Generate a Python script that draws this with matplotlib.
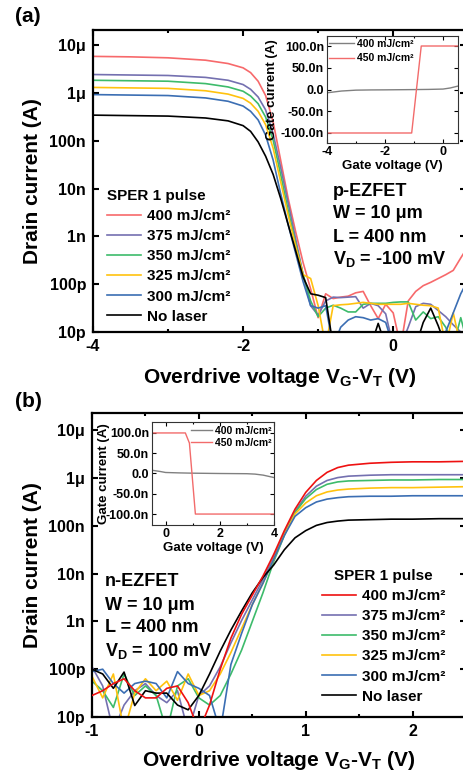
import numpy as np
import matplotlib
matplotlib.use('Agg')
import matplotlib.pyplot as plt
from matplotlib.ticker import FixedLocator, FixedFormatter, MultipleLocator, NullLocator

plt.rcParams['font.family'] = ['Liberation Sans', 'DejaVu Sans']
plt.rcParams['font.weight'] = 'bold'
plt.rcParams['mathtext.fontset'] = 'custom'
plt.rcParams['mathtext.rm'] = 'Liberation Sans:bold'
plt.rcParams['mathtext.it'] = 'Liberation Sans:bold'
plt.rcParams['mathtext.bf'] = 'Liberation Sans:bold'
plt.rcParams['axes.unicode_minus'] = False

# ---------------- data ----------------
labels = ['400 mJ/cm²', '375 mJ/cm²', '350 mJ/cm²', '325 mJ/cm²', '300 mJ/cm²', 'No laser']
colors_a = ['#f7696b', '#7470b0', '#3dbb6b', '#ffc20e', '#3b6eb3', '#000000']
colors_b = ['#ee1111', '#7470b0', '#3dbb6b', '#ffc20e', '#3b6eb3', '#000000']

# panel (a): overdrive voltage (V) and log10(drain current / A)
va = [-4.0, -3.5, -3.0, -2.5, -2.2, -2.0, -1.9, -1.8, -1.7, -1.6, -1.5, -1.4, -1.3, -1.2, -1.1,
      -1.0, -0.9, -0.8, -0.7, -0.6, -0.5, -0.4, -0.3, -0.2, -0.1, 0.0,
      0.1, 0.2, 0.3, 0.4, 0.5, 0.6, 0.7, 0.8, 0.9, 1.0]
a_400 = [-5.23, -5.24, -5.26, -5.31, -5.38, -5.47, -5.57, -5.75, -6.05, -6.6, -7.4, -8.2, -8.9, -9.55, -10.1,
         -10.7, -10.2, -10.3, -10.27, -10.25, -10.18, -10.15, -10.45, -10.72, -10.42, -10.6,
         -11.3, -10.35, -10.15, -10.03, -9.96, -9.88, -9.8, -9.71, -9.45, -9.2]
a_375 = [-5.61, -5.62, -5.63, -5.67, -5.73, -5.82, -5.92, -6.08, -6.35, -6.85, -7.55, -8.3, -9.05, -9.8, -10.45,
         -10.65, -10.35, -10.27, -10.28, -10.27, -10.26, -10.5, -10.4, -10.45, -10.62, -11.3,
         -11.3, -10.9, -10.47, -10.4, -10.42, -10.55, -10.68, -10.85, -11.0, -11.3]
a_350 = [-5.73, -5.74, -5.75, -5.80, -5.87, -5.96, -6.06, -6.22, -6.5, -6.98, -7.7, -8.45, -9.15, -9.8, -10.35,
         -10.68, -10.5, -10.44, -10.5, -10.58, -10.58, -10.42, -10.4, -10.4, -10.4, -10.38,
         -10.37, -10.37, -10.75, -10.58, -10.72, -10.68, -10.9, -11.3, -10.7, -11.3]
a_325 = [-5.88, -5.89, -5.9, -5.95, -6.02, -6.11, -6.21, -6.38, -6.66, -7.15, -7.85, -8.55, -9.2, -9.8, -9.88,
         -10.45, -11.3, -10.45, -10.43, -10.42, -10.4, -10.38, -10.4, -10.42, -10.42, -10.42,
         -10.42, -10.4, -10.42, -10.44, -10.45, -10.5, -11.3, -10.6, -11.3, -11.3]
a_300 = [-6.03, -6.04, -6.05, -6.10, -6.17, -6.27, -6.38, -6.56, -6.88, -7.4, -8.1, -8.75, -9.35, -9.95, -10.45,
         -10.5, -10.45, -11.3, -10.9, -10.75, -10.68, -10.7, -10.75, -10.72, -10.8, -11.3,
         -11.3, -11.3, -11.3, -11.3, -11.3, -11.3, -11.0, -10.6, -10.2, -9.9]
a_dark = [-6.46, -6.47, -6.48, -6.52, -6.58, -6.68, -6.8, -7.02, -7.32, -7.7, -8.2, -8.75, -9.3, -9.85, -10.2,
          -10.23, -10.28, -11.3, -11.3, -11.3, -11.3, -11.3, -11.3, -10.82, -11.3, -11.3,
          -11.3, -11.3, -11.3, -10.8, -10.5, -10.87, -11.3, -11.3, -11.3, -11.3]

# panel (b)
vb = [-1.0, -0.9, -0.8, -0.7, -0.6, -0.5, -0.4, -0.3, -0.2, -0.1, 0.0,
      0.1, 0.2, 0.3, 0.4, 0.5, 0.6, 0.7, 0.8, 0.9, 1.0,
      1.1, 1.2, 1.3, 1.4, 1.6, 1.8, 2.0, 2.25, 2.5]
b_400 = [-10.55, -10.45, -10.3, -10.2, -10.45, -10.6, -10.6, -10.4, -10.35, -10.7, -11.3,
         -10.75, -10.0, -9.35, -8.85, -8.45, -8.05, -7.6, -7.1, -6.65, -6.3,
         -6.05, -5.88, -5.78, -5.73, -5.69, -5.67, -5.66, -5.66, -5.65]
b_375 = [-9.95, -10.35, -11.3, -10.75, -10.45, -10.3, -10.55, -10.7, -10.45, -11.3, -10.55,
         -10.35, -9.95, -9.45, -8.98, -8.55, -8.12, -7.65, -7.15, -6.7, -6.38,
         -6.17, -6.05, -5.99, -5.96, -5.94, -5.93, -5.93, -5.93, -5.93]
b_350 = [-10.25, -10.45, -10.8, -10.1, -10.55, -10.35, -10.55, -11.3, -10.35, -10.2, -10.6,
         -10.75, -10.55, -10.1, -9.6, -9.0, -8.4, -7.75, -7.2, -6.72, -6.43,
         -6.24, -6.13, -6.08, -6.06, -6.05, -6.04, -6.04, -6.03, -6.03]
b_325 = [-10.15, -10.6, -10.1, -11.3, -10.5, -10.2, -10.45, -10.25, -10.65, -10.1, -10.55,
         -10.45, -10.1, -9.65, -9.15, -8.65, -8.2, -7.7, -7.18, -6.75, -6.52,
         -6.37, -6.29, -6.25, -6.23, -6.21, -6.2, -6.2, -6.19, -6.18]
b_300 = [-10.05, -10.0, -10.3, -10.5, -10.3, -10.25, -10.3, -10.6, -10.05, -10.3, -10.4,
         -10.55, -11.3, -9.9, -9.25, -8.65, -8.2, -7.7, -7.2, -6.8, -6.62,
         -6.5, -6.44, -6.41, -6.39, -6.38, -6.38, -6.37, -6.37, -6.37]
b_dark = [-10.0, -10.1, -10.4, -10.06, -10.76, -10.45, -10.5, -10.5, -10.75, -10.85, -10.55,
          -10.1, -9.62, -9.18, -8.78, -8.4, -8.08, -7.82, -7.5, -7.25, -7.1,
          -6.99, -6.93, -6.9, -6.88, -6.87, -6.86, -6.86, -6.85, -6.85]

series_a = [a_400, a_375, a_350, a_325, a_300, a_dark]
series_b = [b_400, b_375, b_350, b_325, b_300, b_dark]

ytick_vals = [1e-11, 1e-10, 1e-9, 1e-8, 1e-7, 1e-6, 1e-5]
ytick_labels = ['10p', '100p', '1n', '10n', '100n', '1μ', '10μ']

# insets: gate current (nA) vs gate voltage (V)
ia_v400 = [-4.0, -3.5, -3.0, -2.5, -2.0, -1.5, -1.0, -0.5, 0.0, 0.25, 0.5]
ia_i400 = [-7.6, -3.5, -1.5, -1.0, -0.8, -0.5, -0.2, 0.2, 1.0, 3.5, 7.6]
ia_v450 = [-4.0, -1.08, -0.75, 0.5]
ia_i450 = [-100, -100, 100, 100]
ib_v400 = [-0.5, -0.2, 0.0, 0.5, 1.0, 2.0, 3.0, 3.3, 3.6, 4.0]
ib_i400 = [8.0, 5.0, 2.5, 1.5, 0.8, 0.0, -0.5, -1.5, -4.0, -10.0]
ib_v450 = [-0.5, 0.73, 0.88, 1.1, 4.0]
ib_i450 = [100, 100, 75, -100, -100]
inset_labels = ['400 mJ/cm²', '450 mJ/cm²']
inset_colors = ['#808080', '#f26b6b']
inset_yticks = [-100, -50, 0, 50, 100]
inset_ytick_labels = ['-100.0n', '-50.0n', '0.0', '50.0n', '100.0n']

# ---------------- figure ----------------
W, H = 463, 772
fig = plt.figure(figsize=(W / 100, H / 100), dpi=100)

def px_axes(l, r, t, b):
    return fig.add_axes([l / W, 1 - b / H, (r - l) / W, (b - t) / H])

def style_main(ax):
    for s in ax.spines.values():
        s.set_linewidth(1.6)
    ax.set_yscale('log')
    ax.set_ylim(1e-11, 2.1e-5)
    ax.yaxis.set_major_locator(FixedLocator(ytick_vals))
    ax.yaxis.set_major_formatter(FixedFormatter(ytick_labels))
    ax.yaxis.set_minor_locator(NullLocator())
    ax.tick_params(which='both', direction='in', top=True, right=True, width=1.5,
                   labelsize=11.5, pad=5)
    ax.tick_params(which='major', length=4.5)
    ax.tick_params(which='minor', length=2.5)
    for lab in ax.get_xticklabels() + ax.get_yticklabels():
        lab.set_fontweight('bold')

XLABEL = 'Overdrive voltage V$_{\\rm G}$-V$_{\\rm T}$ (V)'

# ---- panel (a) ----
ax1 = px_axes(93, 466, 30, 332)
for ys, c, lab in zip(series_a, colors_a, labels):
    ax1.plot(va, 10.0 ** np.array(ys), color=c, lw=1.2, label=lab)
style_main(ax1)
ax1.set_xlim(-4, 0.97)
ax1.xaxis.set_major_locator(MultipleLocator(2))
ax1.xaxis.set_minor_locator(MultipleLocator(1))
ax1.set_ylabel('Drain current (A)', fontsize=15, fontweight='bold')
ax1.yaxis.set_label_coords(-0.137, 0.5)
ax1.set_xlabel(XLABEL, fontsize=15, fontweight='bold')
ax1.xaxis.set_label_coords(0.5, -0.113)
leg1 = ax1.legend(loc='upper left', bbox_to_anchor=(107 / W, 1 - 189 / H), bbox_transform=fig.transFigure,
                  frameon=False, fontsize=11, title='SPER 1 pulse', title_fontproperties={'weight': 'bold', 'size': 11},
                  handlelength=2.2, handletextpad=0.4, labelspacing=0.4, borderpad=0, borderaxespad=0,
                  alignment='left')
for t in leg1.get_texts():
    t.set_fontweight('bold')

for i, s in enumerate(['p-EZFET', 'W = 10 μm', 'L = 400 nm', 'V$_{\\rm D}$ = -100 mV']):
    fig.text(333 / W, 1 - [192, 214, 237, 259][i] / H, s, fontsize=13, fontweight='bold', va='center', ha='left')

fig.text(15 / W, 1 - 17 / H, '(a)', fontsize=15, fontweight='bold', va='center', ha='left')
fig.text(15 / W, 1 - 402 / H, '(b)', fontsize=15, fontweight='bold', va='center', ha='left')

# ---- panel (b) ----
ax2 = px_axes(92, 466, 413, 717)
for ys, c, lab in zip(series_b, colors_b, labels):
    ax2.plot(vb, 10.0 ** np.array(ys), color=c, lw=1.2, label=lab)
ax2.lines[0].set_zorder(3)
style_main(ax2)
ax2.set_ylim(1e-11, 2.3e-5)
ax2.set_xlim(-1, 2.5)
ax2.xaxis.set_major_locator(MultipleLocator(1))
ax2.xaxis.set_minor_locator(MultipleLocator(0.5))
ax2.set_ylabel('Drain current (A)', fontsize=15, fontweight='bold')
ax2.yaxis.set_label_coords(-0.134, 0.5)
ax2.set_xlabel(XLABEL, fontsize=15, fontweight='bold')
ax2.xaxis.set_label_coords(0.5, -0.105)
leg2 = ax2.legend(loc='upper left', bbox_to_anchor=(322 / W, 1 - 569 / H), bbox_transform=fig.transFigure,
                  frameon=False, fontsize=11, title='SPER 1 pulse', title_fontproperties={'weight': 'bold', 'size': 11},
                  handlelength=2.2, handletextpad=0.4, labelspacing=0.4, borderpad=0, borderaxespad=0,
                  alignment='center')
for t in leg2.get_texts():
    t.set_fontweight('bold')
for i, s in enumerate(['n-EZFET', 'W = 10 μm', 'L = 400 nm', 'V$_{\\rm D}$ = 100 mV']):
    fig.text(105 / W, 1 - [582, 605, 628, 651][i] / H, s, fontsize=13, fontweight='bold', va='center', ha='left')

# ---- insets ----
def style_inset(ax, xlim, ylim, xmaj):
    for s in ax.spines.values():
        s.set_linewidth(0.8)
        s.set_color('#333333')
    ax.set_xlim(*xlim)
    ax.set_ylim(*ylim)
    ax.xaxis.set_major_locator(MultipleLocator(xmaj))
    ax.xaxis.set_minor_locator(MultipleLocator(xmaj / 2))
    ax.yaxis.set_major_locator(FixedLocator(inset_yticks))
    ax.yaxis.set_major_formatter(FixedFormatter(inset_ytick_labels))
    ax.yaxis.set_minor_locator(NullLocator())
    ax.tick_params(which='both', direction='in', top=True, right=True, width=0.8, labelsize=9, pad=2)
    ax.tick_params(which='major', length=3)
    ax.tick_params(which='minor', length=1.5)
    for lab in ax.get_xticklabels() + ax.get_yticklabels():
        lab.set_fontweight('bold')

ins1 = px_axes(327, 457.5, 36, 143)
ins1.plot(ia_v400, ia_i400, color=inset_colors[0], lw=1.0, label=inset_labels[0])
ins1.plot(ia_v450, ia_i450, color=inset_colors[1], lw=1.0, label=inset_labels[1])
style_inset(ins1, (-4, 0.5), (-123, 123), 2)
ins1.set_xlabel('Gate voltage (V)', fontsize=9.5, fontweight='bold')
ins1.xaxis.set_label_coords(0.5, -0.16)
ins1.set_ylabel('Gate current (A)', fontsize=9.5, fontweight='bold')
ins1.yaxis.set_label_coords(-0.372, 0.5)
l3 = ins1.legend(loc='upper left', bbox_to_anchor=(329 / W, 1 - 39 / H), bbox_transform=fig.transFigure,
                 frameon=False, fontsize=7.5, handlelength=2.4, handletextpad=0.3, labelspacing=0.4,
                 borderpad=0, borderaxespad=0)
for t in l3.get_texts():
    t.set_fontweight('bold')

ins2 = px_axes(152, 274, 422, 525)
ins2.plot(ib_v400, ib_i400, color=inset_colors[0], lw=1.0, label=inset_labels[0])
ins2.plot(ib_v450, ib_i450, color=inset_colors[1], lw=1.0, label=inset_labels[1])
style_inset(ins2, (-0.5, 4), (-127, 127), 2)
ins2.set_xlabel('Gate voltage (V)', fontsize=9.5, fontweight='bold')
ins2.xaxis.set_label_coords(0.5, -0.165)
ins2.set_ylabel('Gate current (A)', fontsize=9.5, fontweight='bold')
ins2.yaxis.set_label_coords(-0.344, 0.5)
l4 = ins2.legend(loc='upper left', bbox_to_anchor=(191 / W, 1 - 426 / H), bbox_transform=fig.transFigure,
                 frameon=False, fontsize=7.5, handlelength=2.0, handletextpad=0.3, labelspacing=0.15,
                 borderpad=0, borderaxespad=0)
for t in l4.get_texts():
    t.set_fontweight('bold')

fig.savefig('out.png', dpi=100)
